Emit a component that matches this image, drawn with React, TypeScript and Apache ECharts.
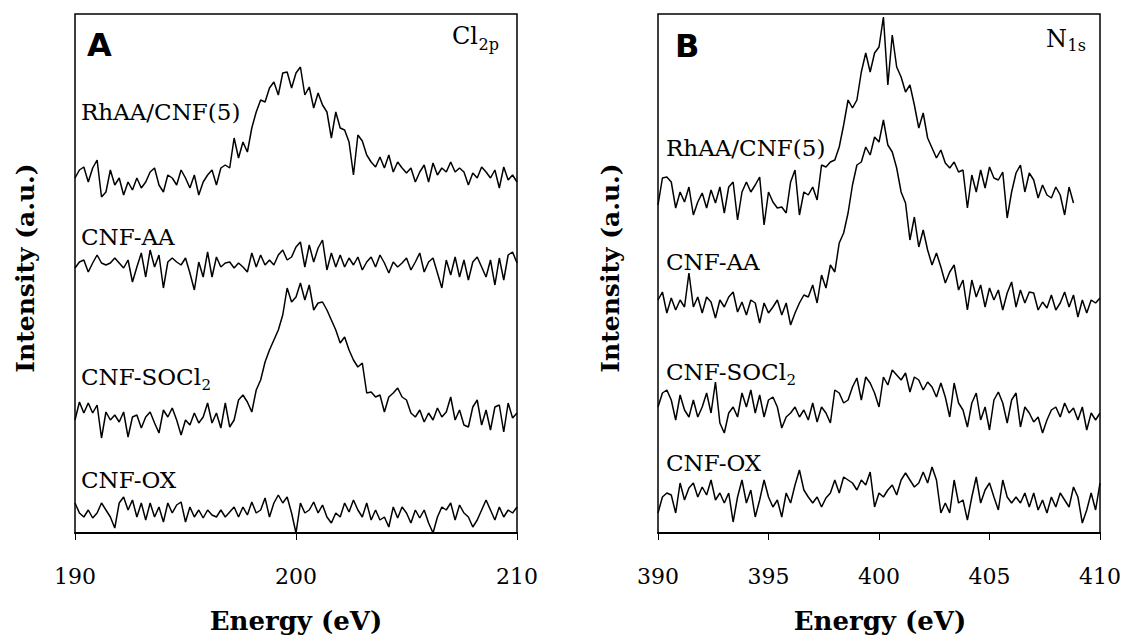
import React, { useEffect, useRef } from "react";
import * as echarts from "echarts";

// Energy grids (eV)
const energyStartA = 190;
const energyStartB = 390;
const energyStep = 0.2;

// Panel A: Cl 2p (stacked intensities, a.u.)
const clRhAA = [355,363,366,351,365,373,336,341,363,348,355,338,351,343,355,345,351,361,365,348,341,358,355,348,363,355,345,358,338,351,358,363,348,365,368,365,395,375,391,381,405,421,433,431,445,451,438,460,461,445,460,466,438,446,425,440,428,421,395,421,405,403,391,358,398,392,378,371,366,376,365,378,361,371,365,360,365,351,361,368,351,370,358,365,361,371,361,365,361,348,360,355,366,361,355,363,345,366,353,358,351];
const clAA = [265,271,273,261,270,278,270,268,270,275,270,265,273,251,266,280,256,283,266,278,245,271,275,271,268,275,260,243,271,256,281,256,276,266,270,271,265,270,266,261,280,266,278,268,273,268,278,283,273,276,286,291,266,288,271,285,293,263,280,266,278,266,275,268,276,263,271,276,266,278,270,260,271,266,270,275,263,271,280,261,271,275,260,245,273,258,276,256,273,253,271,276,266,256,273,248,275,253,278,281,270];
const clSOCl2 = [113,131,120,130,120,128,95,121,113,118,111,121,96,116,118,105,116,121,110,100,123,116,125,113,98,113,108,120,110,116,130,110,120,105,130,106,113,133,138,131,121,143,153,171,183,193,203,218,245,231,236,250,233,248,223,230,231,223,213,203,190,196,183,173,166,170,140,141,136,138,121,136,140,145,136,133,120,116,123,111,120,113,125,116,121,136,113,123,108,106,126,133,108,123,103,126,128,101,130,115,120];
const clOX = [30,20,16,23,15,20,30,23,16,5,30,36,23,33,16,30,13,30,16,26,11,30,20,28,31,11,26,16,23,15,23,18,16,23,16,21,26,16,26,18,31,20,23,35,16,30,38,30,36,20,0,30,20,23,31,20,28,16,10,20,16,30,21,33,23,16,30,13,23,13,16,6,26,15,26,20,10,23,15,23,10,0,16,26,23,30,13,28,20,16,6,13,23,33,23,13,26,16,23,20,26];

// Panel B: N 1s (stacked intensities, a.u.)
const nRhAA = [328,355,356,351,325,341,331,346,318,331,340,325,343,330,346,320,346,351,313,341,351,341,348,356,308,341,331,325,326,320,351,363,318,341,338,346,333,368,366,371,373,386,408,433,425,433,461,480,461,480,486,516,448,498,466,456,441,448,428,405,420,395,385,375,383,370,365,371,361,363,325,358,341,363,345,366,355,353,361,315,341,360,368,341,360,353,335,348,338,335,346,338,318,346,330];
const nAA = [233,241,220,235,223,233,226,260,226,236,220,236,231,215,233,226,236,241,221,231,218,233,230,210,230,220,226,233,218,230,208,220,230,238,236,248,230,258,245,268,261,290,300,320,348,368,371,386,378,396,391,413,388,381,365,341,330,293,316,286,303,283,268,280,266,250,261,268,243,253,223,253,236,248,226,245,233,243,223,240,251,226,243,230,241,240,223,231,225,238,223,230,241,226,238,216,233,220,233,230,235];
const nSOCl2 = [126,140,143,133,113,138,123,116,133,116,126,140,120,151,110,100,120,126,116,140,126,143,120,138,116,133,136,126,105,116,120,126,116,123,113,130,111,126,120,110,143,140,130,133,146,155,133,156,150,140,126,156,148,163,158,153,160,141,156,153,143,151,146,136,150,136,116,150,130,123,106,130,140,113,126,103,133,141,130,110,133,140,106,126,120,111,116,100,113,123,126,116,130,120,125,113,126,103,120,113,120];
const nOX = [20,36,40,38,20,50,33,45,50,36,46,38,53,33,40,30,40,11,36,53,30,43,16,33,53,36,26,33,16,40,30,48,63,43,36,30,36,26,35,40,53,40,56,53,50,43,53,48,61,26,40,36,43,48,38,53,60,53,46,50,61,50,66,53,20,30,20,53,30,33,13,36,56,30,43,50,36,23,53,36,30,36,30,40,26,40,23,33,20,36,26,40,33,26,46,36,10,23,40,23,50];

// Labels
const labelsA = [
  { main: "RhAA/CNF(5)", sub: "", y: 112 },
  { main: "CNF-AA", sub: "", y: 237 },
  { main: "CNF-SOCl", sub: "2", y: 377 },
  { main: "CNF-OX", sub: "", y: 480 },
];
const labelsB = [
  { main: "RhAA/CNF(5)", sub: "", y: 148 },
  { main: "CNF-AA", sub: "", y: 262 },
  { main: "CNF-SOCl", sub: "2", y: 372 },
  { main: "CNF-OX", sub: "", y: 463 },
];
const ticksA = { min: 190, max: 210, interval: 10 };
const ticksB = { min: 390, max: 410, interval: 5 };

const SERIF = "'DejaVu Serif', serif";

function toPairs(start: number, values: number[]) {
  return values.map((v, i) => [Math.round((start + energyStep * i) * 100) / 100, v]);
}

function measure(text: string, size: number, weight = "normal") {
  const ctx = document.createElement("canvas").getContext("2d")!;
  ctx.font = `${weight} ${size}px ${SERIF}`;
  return ctx.measureText(text).width;
}

function textEl(text: string, x: number, y: number, size: number, extra: any = {}) {
  return {
    type: "text",
    x,
    y,
    silent: true,
    ...(extra.rotation !== undefined ? { rotation: extra.rotation } : {}),
    style: {
      text,
      fontSize: size,
      fontFamily: extra.family || SERIF,
      fontWeight: extra.weight || "normal",
      fill: "#000",
      align: extra.align || "left",
      verticalAlign: "middle",
    },
  };
}

function subLabel(main: string, sub: string, x: number, y: number, size: number, subSize: number, dy: number) {
  const els: any[] = [textEl(main, x, y, size)];
  if (sub) {
    const w = measure(main, size);
    els.push(textEl(sub, x + w + 0.5, y + dy, subSize));
  }
  return els;
}

export default function App() {
  const ref = useRef<HTMLDivElement>(null);
  useEffect(() => {
    if (!ref.current) return;
    const chart = echarts.init(ref.current, undefined, { renderer: "svg" });
    const line = (name: string, start: number, values: number[], idx: number) => ({
      name,
      type: "line",
      xAxisIndex: idx,
      yAxisIndex: idx,
      data: toPairs(start, values),
      showSymbol: false,
      symbol: "none",
      lineStyle: { color: "#000", width: 1.5 },
      silent: true,
    });
    const xAxisBase = (t: any, idx: number) => ({
      type: "value",
      gridIndex: idx,
      min: t.min,
      max: t.max,
      interval: t.interval,
      splitLine: { show: false },
      axisLine: { show: true, onZero: false, lineStyle: { color: "#000", width: 2 } },
      axisTick: { show: true, inside: false, length: 7, lineStyle: { color: "#000", width: 1 } },
      axisLabel: { fontSize: 22, fontFamily: SERIF, color: "#000", margin: 32 },
    });
    const yAxisBase = (idx: number) => ({
      type: "value",
      gridIndex: idx,
      min: 0,
      max: 519,
      show: false,
    });

    const graphics: any[] = [];
    labelsA.forEach((l) => graphics.push(...subLabel(l.main, l.sub, 81, l.y, 23, 15, 8)));
    labelsB.forEach((l) => graphics.push(...subLabel(l.main, l.sub, 666, l.y, 23, 15, 8)));
    graphics.push(textEl("A", 87, 45, 32, { family: "'DejaVu Sans', sans-serif", weight: "bold" }));
    graphics.push(textEl("B", 675, 46, 32, { family: "'DejaVu Sans', sans-serif", weight: "bold" }));
    graphics.push(...subLabel("Cl", "2p", 452, 36, 24, 16, 8));
    graphics.push(...subLabel("N", "1s", 1046, 39, 24, 16, 6));
    graphics.push(textEl("Intensity (a.u.)", 25, 268, 25, { weight: "bold", align: "center", rotation: Math.PI / 2 }));
    graphics.push(textEl("Intensity (a.u.)", 610, 268, 25, { weight: "bold", align: "center", rotation: Math.PI / 2 }));
    graphics.push(textEl("Energy (eV)", 296, 621, 26, { weight: "bold", align: "center" }));
    graphics.push(textEl("Energy (eV)", 880, 621, 26, { weight: "bold", align: "center" }));

    chart.setOption({
      animation: false,
      backgroundColor: "#fff",
      grid: [
        { left: 75, top: 14, width: 442, height: 519, show: true, borderColor: "#000", borderWidth: 1.5, backgroundColor: "transparent" },
        { left: 658, top: 14, width: 443, height: 519, show: true, borderColor: "#000", borderWidth: 1.5, backgroundColor: "transparent" },
      ],
      xAxis: [xAxisBase(ticksA, 0), xAxisBase(ticksB, 1)],
      yAxis: [yAxisBase(0), yAxisBase(1)],
      series: [
        line("A RhAA/CNF(5)", energyStartA, clRhAA, 0),
        line("A CNF-AA", energyStartA, clAA, 0),
        line("A CNF-SOCl2", energyStartA, clSOCl2, 0),
        line("A CNF-OX", energyStartA, clOX, 0),
        line("B RhAA/CNF(5)", energyStartB, nRhAA, 1),
        line("B CNF-AA", energyStartB, nAA, 1),
        line("B CNF-SOCl2", energyStartB, nSOCl2, 1),
        line("B CNF-OX", energyStartB, nOX, 1),
      ],
      graphic: graphics,
    });
    return () => chart.dispose();
  }, []);
  return <div ref={ref} style={{ position: "fixed", left: 0, top: 0, width: 1124, height: 636, background: "#fff" }} />;
}
